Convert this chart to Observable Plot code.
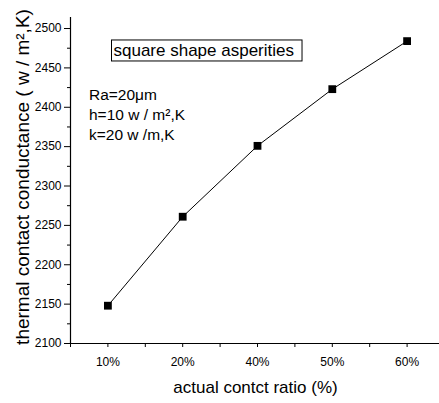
<!DOCTYPE html>
<html>
<head>
<meta charset="utf-8">
<script src="https://cdn.jsdelivr.net/npm/d3@7"></script>
<script src="https://cdn.jsdelivr.net/npm/@observablehq/plot@0.6"></script>
<style>
  html, body { margin: 0; padding: 0; background: #fff; overflow: hidden; }
  #chart { width: 439px; height: 403px; overflow: hidden; }
  #chart svg { max-width: none !important; }
</style>
</head>
<body>
<div id="chart"></div>
<script>
const categories = ["10%", "20%", "40%", "50%", "60%"];
const conductance = [2148, 2261, 2351, 2423, 2484];
const yMajorTicks = [2100, 2150, 2200, 2250, 2300, 2350, 2400, 2450, 2500];
const yMinorTicks = [2125, 2175, 2225, 2275, 2325, 2375, 2425, 2475];
const yLabel = "thermal contact conductance ( w / m²,K)";
const xLabel = "actual contct ratio (%)";
const boxText = "square shape asperities";
const noteLines = ["Ra=20μm", "h=10 w / m²,K", "k=20 w /m,K"];

const data = categories.map((c, i) => ({idx: i + 1, cat: c, value: conductance[i]}));
const xCenters = categories.map((c, i) => i + 1);
const xAllTicks = d3.range(0.5, categories.length + 0.51, 0.5);

const chart = Plot.plot({
  width: 444,
  height: 403,
  marginLeft: 70,
  marginRight: 0,
  marginTop: 17,
  marginBottom: 60,
  style: {fontFamily: "Liberation Sans, Arial, sans-serif", fontSize: "12px", color: "#000", background: "#fff", maxWidth: "none"},
  x: {type: "linear", domain: [0.5, categories.length + 0.5]},
  y: {domain: [2100, 2514]},
  marks: [
    Plot.ruleX([0.5], {y1: 2100, y2: 2514, stroke: "#000", strokeWidth: 1.2}),
    Plot.ruleY([2100], {x1: 0.5, x2: categories.length + 0.5, stroke: "#000", strokeWidth: 1.2}),
    Plot.axisY({ticks: yMajorTicks, tickSize: 6, tickPadding: 3, tickFormat: d3.format("d"), label: null, fontSize: 12}),
    Plot.axisY({ticks: yMinorTicks, tickSize: 3, tickFormat: () => "", label: null}),
    Plot.axisX({ticks: xAllTicks, tickSize: 4, tickFormat: () => "", label: null}),
    Plot.axisX({ticks: xCenters, tickSize: 0, tickPadding: 14, tickFormat: d => categories[d - 1], label: null, fontSize: 12}),
    Plot.line(data, {x: "idx", y: "value", stroke: "#000", strokeWidth: 1}),
    Plot.dot(data, {x: "idx", y: "value", symbol: "square", r: 4.4, fill: "#000", stroke: "none"}),
    Plot.text([yLabel], {frameAnchor: "left", dx: -48, dy: -3.5, rotate: -90, textAnchor: "middle", fontSize: 19, fill: "#000"}),
    Plot.text([xLabel], {frameAnchor: "bottom", dx: -2, dy: 49, fontSize: 17, fill: "#000"}),
    Plot.text([boxText], {frameAnchor: "top-left", dx: 43, dy: 26.4, fontSize: 17, fill: "#000", textAnchor: "start", className: "boxed"}),
    Plot.text([noteLines.join("\n")], {frameAnchor: "top-left", dx: 18.5, dy: 68, fontSize: 15.5, lineHeight: 1.3, fill: "#000", textAnchor: "start"})
  ]
});
chart.style.maxWidth = "none";
document.getElementById("chart").appendChild(chart);

const g = chart.querySelector("g.boxed");
if (g) {
  const t = g.querySelector("text");
  const bb = t.getBBox();
  const rect = document.createElementNS("http://www.w3.org/2000/svg", "rect");
  rect.setAttribute("x", bb.x - 2);
  rect.setAttribute("y", bb.y - 1);
  rect.setAttribute("width", bb.width + 10);
  rect.setAttribute("height", bb.height + 2);
  rect.setAttribute("fill", "none");
  rect.setAttribute("stroke", "#000");
  rect.setAttribute("stroke-width", "1");
  const tr = t.getAttribute("transform");
  if (tr) rect.setAttribute("transform", tr);
  g.insertBefore(rect, t);
}
</script>
</body>
</html>
